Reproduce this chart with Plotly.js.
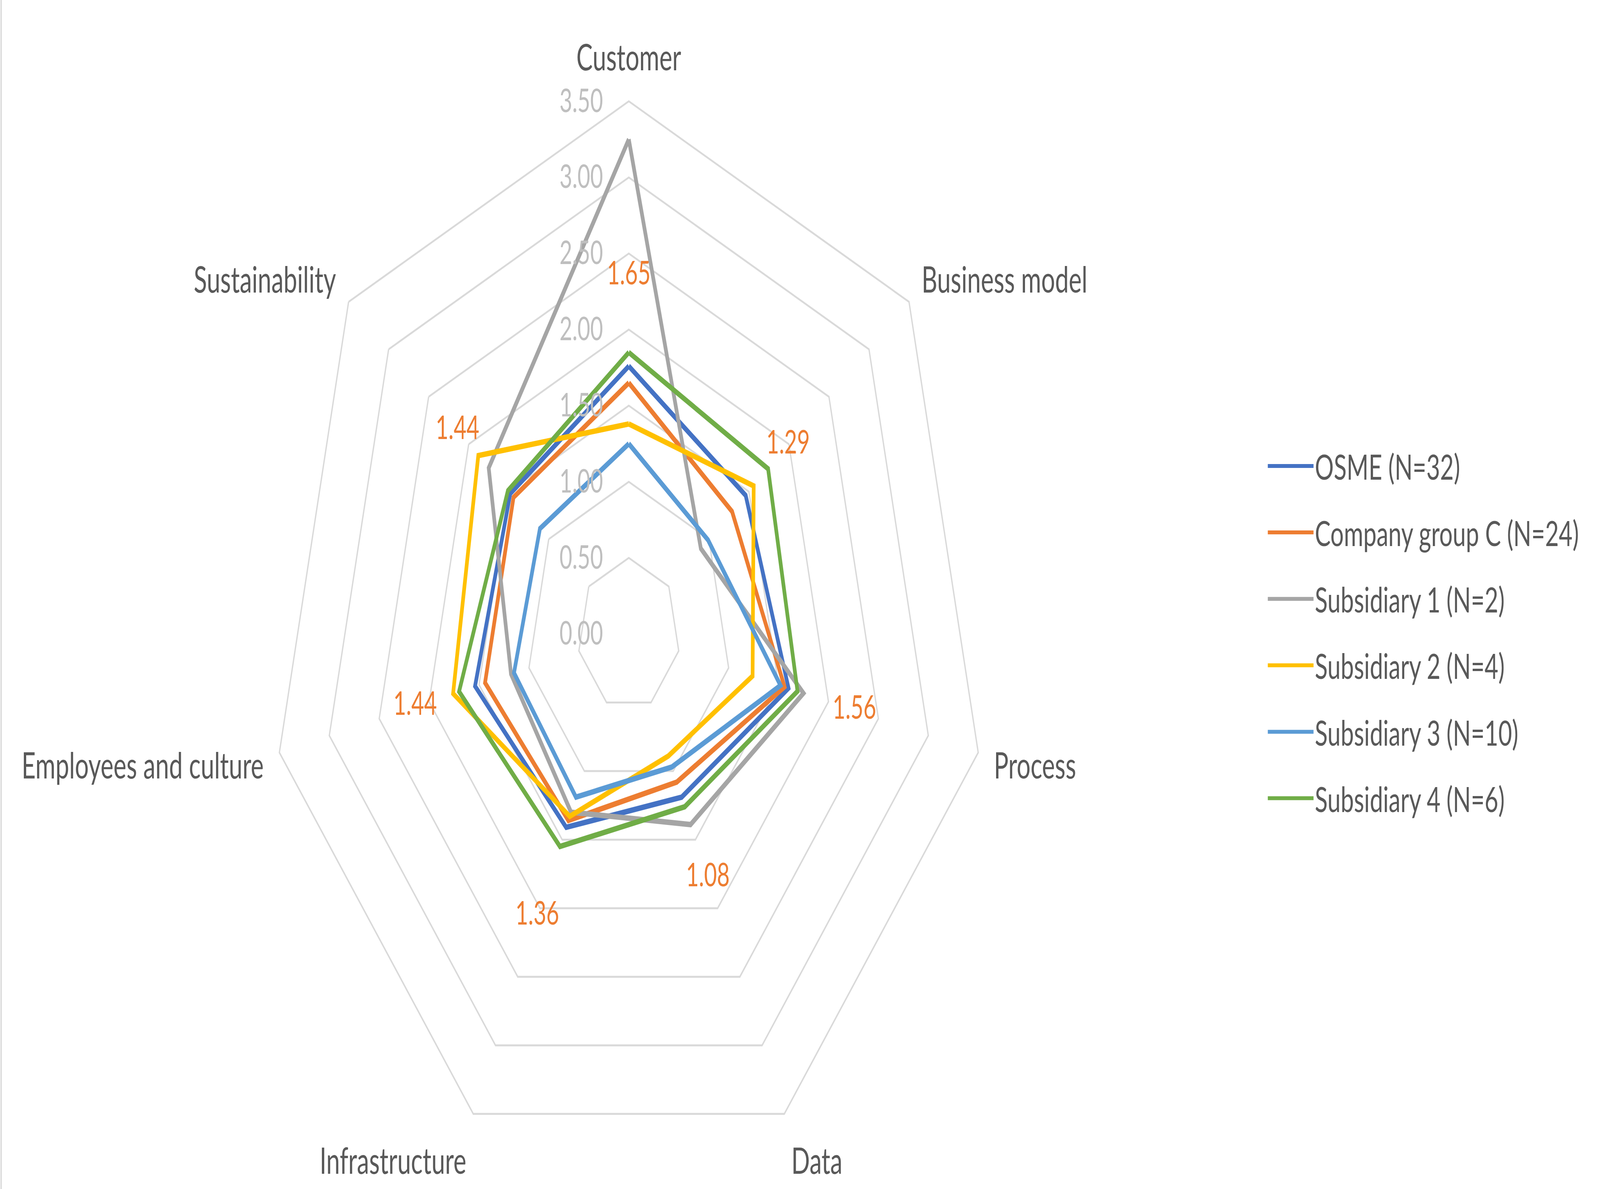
<!DOCTYPE html>
<html>
<head>
<meta charset="utf-8">
<script src="https://cdn.plot.ly/plotly-3.0.1.min.js"></script>
<style>
  html, body { margin: 0; padding: 0; background: #ffffff; overflow: hidden; }
  #chart { width: 6088px; height: 3044px; transform-origin: 0 0; }
</style>
</head>
<body>
<div id="chart"></div>
<script>
// ---- Data ----
const categories = ["Customer", "Business model", "Process", "Data", "Infrastructure", "Employees and culture", "Sustainability"];

const seriesNames = ["OSME (N=32)", "Company group C (N=24)", "Subsidiary 1 (N=2)", "Subsidiary 2 (N=4)", "Subsidiary 3 (N=10)", "Subsidiary 4 (N=6)"];

const osme        = [1.76, 1.46, 1.60, 1.19, 1.41, 1.54, 1.48];
const companyC    = [1.65, 1.29, 1.56, 1.08, 1.36, 1.44, 1.44];
const subsidiary1 = [3.25, 0.90, 1.75, 1.39, 1.30, 1.18, 1.75];
const subsidiary2 = [1.38, 1.56, 1.24, 0.89, 1.33, 1.76, 1.88];
const subsidiary3 = [1.25, 0.99, 1.52, 0.97, 1.19, 1.15, 1.11];
const subsidiary4 = [1.85, 1.74, 1.69, 1.26, 1.55, 1.70, 1.51];

const radialTicks = [0, 0.5, 1, 1.5, 2, 2.5, 3, 3.5];

// ---- Styles ----
const colors = ["#4472C4", "#ED7D31", "#A5A5A5", "#FFC000", "#5B9BD5", "#70AD47"];
const allSeries = [osme, companyC, subsidiary1, subsidiary2, subsidiary3, subsidiary4];
const FONT = "Lato, 'Open Sans', sans-serif";
const rMax = radialTicks[radialTicks.length - 1];
const labelOffset = 0.70; // data-label distance outward from the point (axis units)

// The chart is laid out on the reference's 6088 x 3044 canvas and fitted to the window.
const BW = 6088, BH = 3044;
const el = document.getElementById("chart");
const fx = window.innerWidth / BW, fy = window.innerHeight / BH;
if (Math.abs(fx - 1) > 1e-3 || Math.abs(fy - 1) > 1e-3) {
  el.style.transform = "scale(" + fx + "," + fy + ")";
}

function closeLoop(arr) { return arr.concat([arr[0]]); }

const traces = allSeries.map((vals, i) => ({
  type: "scatterpolar",
  mode: "lines",
  name: seriesNames[i],
  legendgroup: "g" + i,
  r: closeLoop(vals),
  theta: closeLoop(categories),
  line: { color: colors[i], width: 14 },
  hoverinfo: "name+r+theta"
}));

// data labels for Company group C
traces.push({
  type: "scatterpolar",
  mode: "text",
  showlegend: false,
  r: companyC.map(v => v + labelOffset),
  theta: categories,
  text: companyC.map(v => v.toFixed(2)),
  textposition: "middle center",
  textfont: { family: FONT, size: 84, color: "#ED7D31" },
  hoverinfo: "skip"
});

const legendFont = 90;
const rowPitch = 170.6;

const layout = {
  width: BW,
  height: BH,
  margin: { l: 0, r: 0, t: 0, b: 0 },
  paper_bgcolor: "#ffffff",
  font: { family: FONT, color: "#595959", size: 84 },
  showlegend: true,
  legend: {
    x: 4819 / BW, xanchor: "left",
    y: 1 - 1128 / BH, yanchor: "top",
    itemwidth: 174,
    font: { family: FONT, size: legendFont, color: "#595959" },
    tracegroupgap: rowPitch - 3.5 - legendFont * 1.3,
    bgcolor: "rgba(0,0,0,0)"
  },
  polar: {
    domain: { x: [0.169, 0.617], y: [0.0188, 0.9148] },
    bgcolor: "rgba(0,0,0,0)",
    gridshape: "linear",
    angularaxis: {
      type: "category",
      categoryarray: categories,
      rotation: 90,
      direction: "clockwise",
      showgrid: false,
      showline: true,
      linecolor: "#D9D9D9",
      linewidth: 5,
      ticks: "outside",
      ticklen: 40,
      tickcolor: "rgba(0,0,0,0)",
      tickfont: { family: FONT, size: 93, color: "#595959" }
    },
    radialaxis: {
      range: [0, rMax],
      tickvals: radialTicks,
      tickformat: ".2f",
      angle: 90,
      side: "counterclockwise",
      showline: false,
      showgrid: true,
      gridcolor: "#D9D9D9",
      gridwidth: 5,
      ticks: "outside",
      ticklen: 68,
      tickcolor: "rgba(0,0,0,0)",
      tickangle: 90,
      tickfont: { family: FONT, size: 84, color: "#BFBFBF" }
    }
  },
  shapes: [{
    type: "line", xref: "paper", yref: "paper",
    x0: 0.0007, x1: 0.0007, y0: 0, y1: 1,
    line: { color: "#D9D9D9", width: 5 }
  }]
};

Plotly.newPlot("chart", traces, layout, { staticPlot: true });
</script>
</body>
</html>
